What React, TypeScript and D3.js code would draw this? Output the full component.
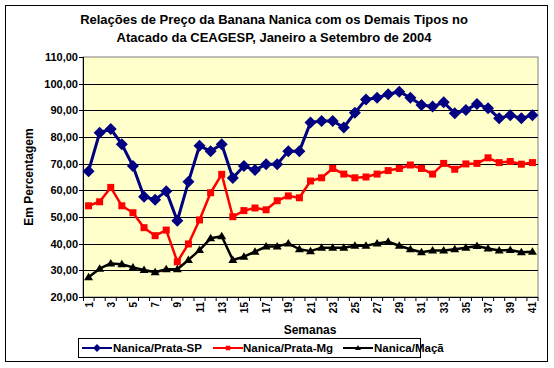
import React from 'react';
import * as d3 from 'd3';

const weeks = d3.range(1, 42);

const prataSP = [67.2, 81.6, 83, 77.3, 69.1, 57.6, 56.5, 59.7, 48.6, 63.2, 76.7, 74.7, 77.3, 64.6, 69.1, 67.6, 69.8, 69.8, 74.7, 74.7,
  85.4, 86, 86, 83.6, 89.1, 94.1, 94.7, 96, 97, 94.7, 92, 91.4, 93, 88.9, 90.1, 92.4, 90.8, 87, 88.2, 87, 88.2];

const prataMg = [54.2, 55.7, 61.1, 54.2, 51.6, 46, 43, 45.1, 33.2, 39.9, 48.9, 59.1, 66, 50.1, 52.4, 53.4, 52.7, 56.1, 57.9, 57.2,
  63.5, 64.7, 68.2, 66.1, 64.7, 65, 66.1, 67.4, 68.2, 69.5, 68.2, 66.1, 70.1, 67.9, 69.9, 70.1, 72.2, 70.4, 70.8, 69.8, 70.4];

const maca = [27.4, 30.6, 32.6, 32.3, 31.1, 30.1, 29.3, 30.4, 30.4, 33.9, 37.6, 42, 42.8, 33.9, 35.1, 37, 38.9, 38.9, 40.1, 37.9,
  37.2, 38.5, 38.5, 38.5, 39.2, 39.2, 40.1, 40.7, 39.2, 37.9, 36.8, 37.4, 37.4, 37.9, 38.5, 39.1, 38.2, 37.4, 37.6, 36.8, 37];

const yTicks = d3.range(20, 111, 10);

const seriesNames = ['Nanica/Prata-SP', 'Nanica/Prata-Mg', 'Nanica/Maçã'];

const font = 'Arial, "Liberation Sans", sans-serif';

export default function App() {
  const left = 83, right = 538, top = 57, bottom = 297;

  const x = d3.scaleBand<number>().domain(weeks).range([left, right]).padding(0);
  const y = d3.scaleLinear().domain([20, 110]).range([bottom, top]);
  const cx = (w: number) => (x(w) as number) + x.bandwidth() / 2;

  const line = d3.line<number>()
    .x((_, i) => cx(weeks[i]))
    .y(d => y(d));

  const series = [
    { name: seriesNames[0], data: prataSP, color: '#000080', marker: 'diamond', width: 3 },
    { name: seriesNames[1], data: prataMg, color: '#FF0000', marker: 'square', width: 2.5 },
    { name: seriesNames[2], data: maca, color: '#000000', marker: 'triangle', width: 2.5 },
  ];

  // marker shapes, k scales them down for the legend
  const markerPath = (type: string, px: number, py: number, k = 1) => {
    if (type === 'diamond') return `M${px},${py - 6 * k}L${px + 6 * k},${py}L${px},${py + 6 * k}L${px - 6 * k},${py}Z`;
    if (type === 'square') return `M${px - 3.5 * k},${py - 3.5 * k}h${7 * k}v${7 * k}h${-7 * k}Z`;
    return `M${px},${py - 4.5 * k}L${px + 4.5 * k},${py + 3 * k}L${px - 4.5 * k},${py + 3 * k}Z`;
  };

  const legendItems = [
    { x: 82, textX: 113 },
    { x: 213, textX: 243 },
    { x: 343, textX: 374 },
  ];

  return (
    <svg width={554} height={368} style={{ position: 'absolute', left: 0, top: 0, fontFamily: font }}>
      <rect x={0} y={0} width={554} height={368} fill="#fff" />
      <rect x={5.5} y={5.5} width={542} height={356} fill="#fff" stroke="#000" strokeWidth={1} />

      <text x={274} y={24} textAnchor="middle" fontSize={13} fontWeight="bold">
        Relações de Preço da Banana Nanica com os Demais Tipos no
      </text>
      <text x={274} y={42} textAnchor="middle" fontSize={13} fontWeight="bold">
        Atacado da CEAGESP, Janeiro a Setembro de 2004
      </text>

      <rect x={left} y={top} width={right - left} height={bottom - top} fill="#FFFFCC" stroke="#808080" strokeWidth={1} />

      {yTicks.map(t => (
        <g key={t}>
          {t > 20 && t < 110 && (
            <line x1={left} x2={right} y1={Math.round(y(t)) + 0.5} y2={Math.round(y(t)) + 0.5} stroke="#000" strokeWidth={1} />
          )}
          <line x1={left - 4} x2={left} y1={Math.round(y(t)) + 0.5} y2={Math.round(y(t)) + 0.5} stroke="#000" />
          <text x={left - 5} y={y(t) + 4} textAnchor="end" fontSize={11} fontWeight="bold">
            {t.toFixed(2).replace('.', ',')}
          </text>
        </g>
      ))}

      <line x1={left + 0.5} x2={left + 0.5} y1={top} y2={bottom} stroke="#000" />
      <line x1={left} x2={right} y1={bottom + 0.5} y2={bottom + 0.5} stroke="#000" />

      {weeks.map(w => (
        <line key={w} x1={(x(w) as number) + x.bandwidth()} x2={(x(w) as number) + x.bandwidth()}
          y1={bottom} y2={bottom + 4} stroke="#000" />
      ))}
      <line x1={left + 0.5} x2={left + 0.5} y1={bottom} y2={bottom + 4} stroke="#000" />

      {weeks.filter(w => w % 2 === 1).map(w => (
        <text key={w} transform={`translate(${cx(w) + 4},${bottom + 5}) rotate(-90)`}
          textAnchor="end" fontSize={10} fontWeight="bold">{w}</text>
      ))}

      <text x={310} y={334} textAnchor="middle" fontSize={12} fontWeight="bold">Semanas</text>
      <text transform={`translate(33,${(top + bottom) / 2}) rotate(-90)`} textAnchor="middle" fontSize={12} fontWeight="bold">
        Em Percentagem
      </text>

      {series.map(s => (
        <g key={s.name}>
          <path d={line(s.data) || ''} fill="none" stroke={s.color} strokeWidth={s.width} strokeLinejoin="round" />
          {s.data.map((v, i) => (
            <path key={i} d={markerPath(s.marker, cx(weeks[i]), y(v))} fill={s.color} />
          ))}
        </g>
      ))}

      <rect x={78.5} y={338.5} width={342} height={19} fill="#fff" stroke="#000" />
      {series.map((s, i) => (
        <g key={s.name}>
          <line x1={legendItems[i].x} x2={legendItems[i].x + 30} y1={348} y2={348} stroke={s.color} strokeWidth={2} />
          <path d={markerPath(s.marker, legendItems[i].x + 15, 348, 0.65)} fill={s.color} />
          <text x={legendItems[i].textX} y={352} fontSize={11.5} fontWeight="bold">{s.name}</text>
        </g>
      ))}
    </svg>
  );
}
